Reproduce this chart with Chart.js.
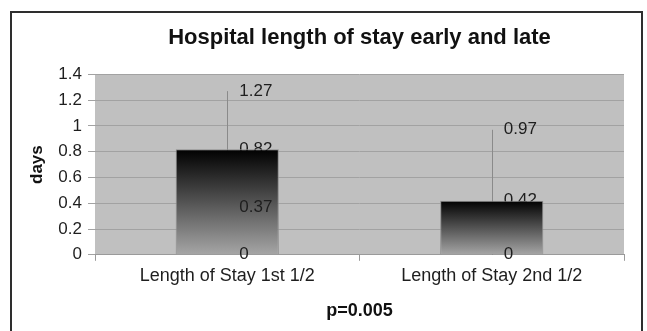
<!DOCTYPE html>
<html>
<head>
<meta charset="utf-8">
<script src="https://cdn.jsdelivr.net/npm/chart.js@4/dist/chart.umd.min.js"></script>
<style>
  html, body { margin: 0; padding: 0; background: #fff; }
  #frame {
    position: absolute; left: 10px; top: 11px;
    width: 629px; height: 400px;
    border: 2px solid #2e2e2e;
  }
  #chart { position: absolute; left: 0; top: 0; }
</style>
</head>
<body>
<div id="frame"></div>
<canvas id="chart" width="647" height="331"></canvas>
<script>
const categories = ['Length of Stay 1st 1/2', 'Length of Stay 2nd 1/2']
const mean_days = [0.82, 0.42]
const upper_days = [1.27, 0.97]
const lower_days = [0.37, -0.13]
const base_days = [0, 0]
const y_ticks = [0, 0.2, 0.4, 0.6, 0.8, 1, 1.2, 1.4]

const chart_title = 'Hospital length of stay early and late'
const y_title = 'days'
const x_title = 'p=0.005'

Chart.defaults.font.family = "'Liberation Sans', Arial, sans-serif"
const label_font = "17px 'Liberation Sans', Arial, sans-serif"

function bar_gradient(context) {
  const chart = context.chart
  const y = chart.scales.y
  if (!y || !chart.chartArea) return '#666'
  const top = y.getPixelForValue(mean_days[context.dataIndex])
  const bottom = y.getPixelForValue(0)
  const g = chart.ctx.createLinearGradient(0, top, 0, bottom)
  g.addColorStop(0, '#000000')
  g.addColorStop(1, '#a6a6a6')
  return g
}

// plot area fill + range lines and value labels (some behind, some over the bars)
const plot_extras = {
  id: 'plot_extras',
  beforeDraw(chart) {
    const a = chart.chartArea
    const ctx = chart.ctx
    ctx.save()
    ctx.fillStyle = '#c0c0c0'
    ctx.fillRect(a.left, a.top, a.right - a.left, a.bottom - a.top)
    ctx.restore()
  },
  beforeDatasetsDraw(chart) {
    const ctx = chart.ctx
    const x = chart.scales.x
    const y = chart.scales.y
    const a = chart.chartArea
    ctx.save()
    ctx.strokeStyle = '#8a8a8a'
    ctx.lineWidth = 1
    categories.forEach(function(c, i) {
      const cx = Math.round(x.getPixelForValue(i)) + 0.5
      ctx.beginPath()
      ctx.moveTo(cx, y.getPixelForValue(upper_days[i]))
      ctx.lineTo(cx, Math.min(a.bottom, y.getPixelForValue(lower_days[i])))
      ctx.stroke()
    })
    ctx.fillStyle = '#1e1e1e'
    ctx.font = label_font
    ctx.textAlign = 'left'
    ctx.textBaseline = 'middle'
    categories.forEach(function(c, i) {
      const lx = x.getPixelForValue(i) + 12
      ctx.fillText(String(upper_days[i]), lx, y.getPixelForValue(upper_days[i]))
      ctx.fillText(String(mean_days[i]), lx, y.getPixelForValue(mean_days[i]))
    })
    ctx.restore()
  },
  afterDatasetsDraw(chart) {
    const ctx = chart.ctx
    const x = chart.scales.x
    const y = chart.scales.y
    ctx.save()
    ctx.fillStyle = '#1e1e1e'
    ctx.font = label_font
    ctx.textAlign = 'left'
    ctx.textBaseline = 'middle'
    categories.forEach(function(c, i) {
      const lx = x.getPixelForValue(i) + 12
      if (lower_days[i] >= 0) {
        ctx.fillText(String(lower_days[i]), lx, y.getPixelForValue(lower_days[i]))
      }
      ctx.fillText(String(base_days[i]), lx, y.getPixelForValue(base_days[i]))
    })
    ctx.restore()
  }
}

new Chart(document.getElementById('chart').getContext('2d'), {
  type: 'bar',
  data: {
    labels: categories,
    datasets: [{
      data: mean_days,
      backgroundColor: bar_gradient,
      borderColor: '#8c8c8c',
      borderWidth: 1,
      barPercentage: 0.39,
      categoryPercentage: 1
    }]
  },
  options: {
    responsive: false,
    animation: false,
    layout: { padding: { left: 23, right: 23, top: 0, bottom: 5 } },
    plugins: {
      legend: { display: false },
      tooltip: { enabled: false },
      title: {
        display: true,
        fullSize: false,
        text: chart_title,
        color: '#111',
        font: { size: 22, weight: 'bold' },
        padding: { top: 25, bottom: 23 }
      }
    },
    scales: {
      x: {
        grid: { drawOnChartArea: false, offset: true, tickLength: 6, color: '#9a9a9a' },
        border: { color: '#9a9a9a' },
        ticks: { color: '#1e1e1e', font: { size: 18 }, padding: 4 },
        title: {
          display: true,
          text: x_title,
          color: '#111',
          font: { size: 18, weight: 'bold' },
          padding: { top: 10, bottom: 4 }
        }
      },
      y: {
        min: 0,
        max: 1.4,
        afterBuildTicks(scale) {
          scale.ticks = y_ticks.map(v => ({ value: v }))
        },
        afterFit(scale) {
          scale.width = 72
        },
        grid: { color: '#a2a2a2', tickLength: 7 },
        border: { display: false },
        ticks: {
          color: '#1e1e1e',
          font: { size: 17 },
          padding: 6,
          callback: function(value) { return String(value) }
        },
        title: {
          display: true,
          text: y_title,
          color: '#111',
          font: { size: 17, weight: 'bold' },
          padding: { top: 4, bottom: 4 }
        }
      }
    }
  },
  plugins: [plot_extras]
})
</script>
</body>
</html>
